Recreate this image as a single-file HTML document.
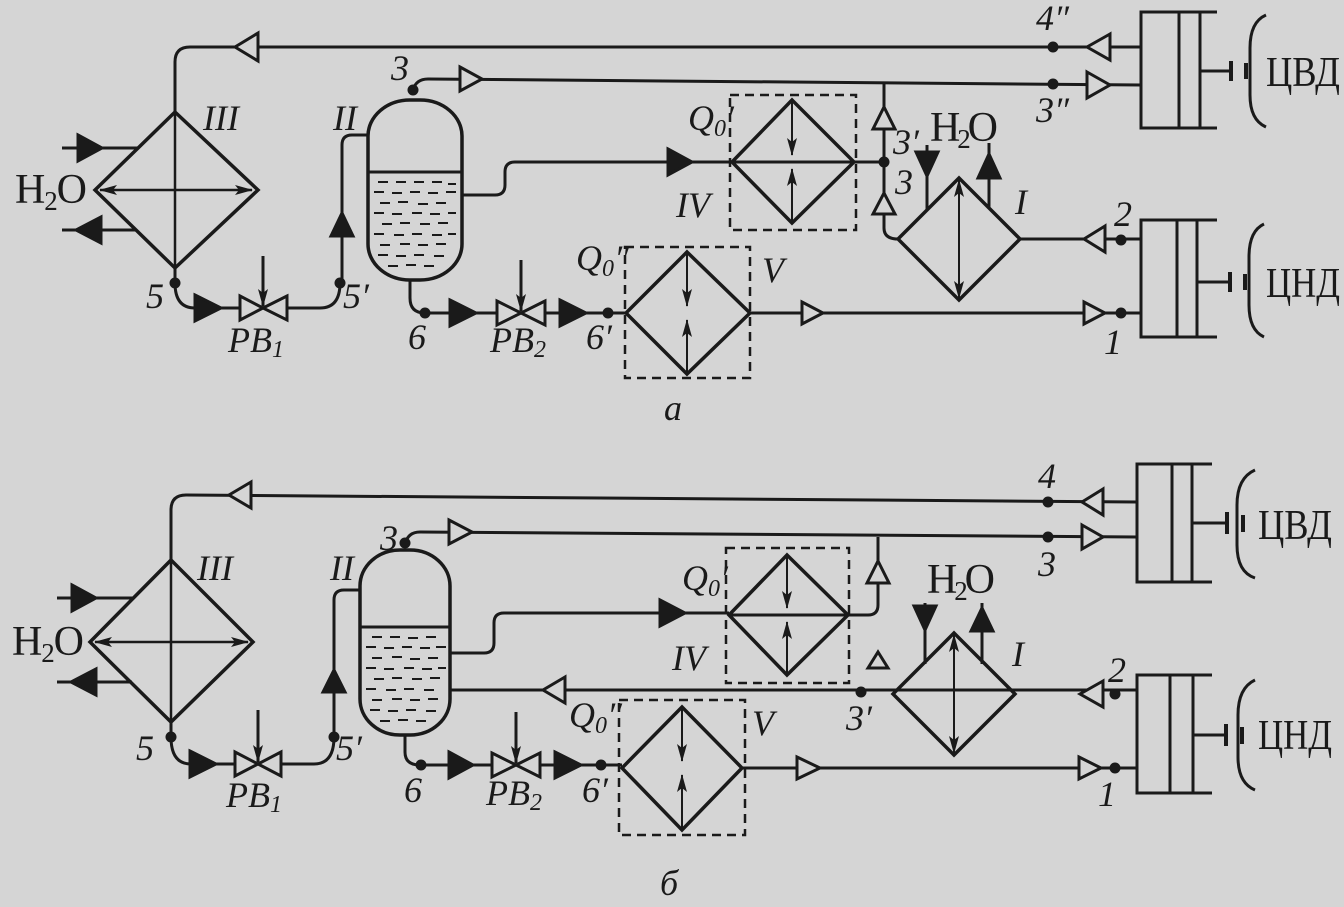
<!DOCTYPE html>
<html><head><meta charset="utf-8"><style>
html,body{margin:0;padding:0;background:#d5d5d5;}
svg{display:block;}
text{font-family:"Liberation Serif",serif;fill:#1a1a1a;}
.i{font-style:italic;font-size:36px;}
.n{font-size:42px;}
</style></head><body>
<svg width="1344" height="907" viewBox="0 0 1344 907" xmlns="http://www.w3.org/2000/svg">
<defs>
<marker id="ah2" markerWidth="18" markerHeight="10" refX="17" refY="5" orient="auto-start-reverse" markerUnits="userSpaceOnUse" viewBox="0 0 18 10">
<path d="M0,0 L18,5 L0,10 L4,5 Z" fill="#1a1a1a"/></marker>
</defs>
<rect width="1344" height="907" fill="#d5d5d5"/>
<g stroke="#1a1a1a" stroke-width="3" fill="none" stroke-linecap="butt">

<!-- ================= a ================= -->
<path d="M175,112 V62 Q175,47 190,47 H1141"/>
<polygon points="258,33 235,47 258,61" fill="#d5d5d5"/>
<polygon points="1110,34 1087,47 1110,60" fill="#d5d5d5"/>
<path d="M413,90 Q416,79 428,79 L1141,85"/>
<polygon points="460,67 482,79 460,91" fill="#d5d5d5"/>
<polygon points="1087,72 1110,85 1087,98" fill="#d5d5d5"/>
<rect x="368" y="100" width="94" height="180" rx="42" ry="36" stroke-width="3.5"/>
<line x1="368" y1="172" x2="462" y2="172"/>
<g stroke-width="2">
<path d="M378,182h10M396,182h10M414,182h10M432,182h10M448,184h8
M374,192h10M392,193h10M410,192h10M428,193h10M446,192h10
M380,203h10M398,202h10M418,204h10M436,203h10
M374,213h10M392,214h10M412,213h10M430,214h10M448,213h8
M382,224h10M400,223h10M420,224h10M438,223h10
M374,234h10M394,235h10M412,234h10M432,235h10M448,234h8
M380,245h10M400,244h10M418,245h10M436,244h10
M378,255h10M396,256h10M414,255h10M434,256h10
M388,266h10M406,265h10M424,266h10"/>
</g>
<path d="M368,135 H352 Q342,135 342,145 V283"/>
<polygon points="331,236 342,213 353,236" fill="#1a1a1a"/>
<path d="M340,283 Q340,308 320,308 H287"/>
<polygon points="240,296 263,308 240,320" fill="#d5d5d5"/>
<polygon points="287,296 263,308 287,320" fill="#d5d5d5"/>
<line x1="263" y1="256" x2="263" y2="306" marker-end="url(#ah2)"/>
<path d="M175,268 V283 Q175,308 195,308 H240"/>
<polygon points="195,295 221,308 195,321" fill="#1a1a1a"/>
<polygon points="175,112 258,190 175,268 95,190" stroke-width="3.5"/>
<line x1="175" y1="112" x2="175" y2="268" stroke-width="2.5"/>
<line x1="100" y1="190" x2="252" y2="190" stroke-width="2.5" marker-start="url(#ah2)" marker-end="url(#ah2)"/>
<line x1="62" y1="148" x2="138" y2="148"/>
<polygon points="78,135 102,148 78,161" fill="#1a1a1a"/>
<line x1="62" y1="230" x2="137" y2="230"/>
<polygon points="101,217 76,230 101,243" fill="#1a1a1a"/>
<path d="M462,195 H495 Q505,195 505,185 V172 Q505,162 515,162 H732"/>
<polygon points="668,149 692,162 668,175" fill="#1a1a1a"/>
<rect x="730" y="95" width="126" height="135" stroke-dasharray="9,6" stroke-width="2.5"/>
<polygon points="792,100 854,162 792,223 732,162" stroke-width="3.5"/>
<line x1="732" y1="162" x2="884" y2="162"/>
<line x1="792" y1="100" x2="792" y2="155" stroke-width="2" marker-end="url(#ah2)"/>
<line x1="792" y1="223" x2="792" y2="169" stroke-width="2" marker-end="url(#ah2)"/>
<path d="M884,84 V228 Q884,239 898,239"/>
<polygon points="873,129 884,107 895,129" fill="#d5d5d5"/>
<polygon points="873,214 884,193 895,214" fill="#d5d5d5"/>
<polygon points="959,178 1020,239 959,300 898,239" stroke-width="3.5"/>
<line x1="959" y1="180" x2="959" y2="298" stroke-width="2" marker-start="url(#ah2)" marker-end="url(#ah2)"/>
<line x1="1020" y1="239" x2="1141" y2="239"/>
<polygon points="1105,226 1084,239 1105,252" fill="#d5d5d5"/>
<line x1="927" y1="145" x2="927" y2="209"/>
<polygon points="916,152 938,152 927,176" fill="#1a1a1a"/>
<line x1="989" y1="143" x2="989" y2="209"/>
<polygon points="978,178 989,154 1000,178" fill="#1a1a1a"/>
<line x1="750" y1="313" x2="1141" y2="313"/>
<polygon points="802,302 823,313 802,324" fill="#d5d5d5"/>
<polygon points="1084,302 1105,313 1084,324" fill="#d5d5d5"/>
<rect x="625" y="247" width="125" height="131" stroke-dasharray="9,6" stroke-width="2.5"/>
<polygon points="687,252 750,313 687,374 626,313" stroke-width="3.5"/>
<line x1="687" y1="252" x2="687" y2="306" stroke-width="2" marker-end="url(#ah2)"/>
<line x1="687" y1="374" x2="687" y2="320" stroke-width="2" marker-end="url(#ah2)"/>
<path d="M410,280 V298 Q410,313 425,313 H626"/>
<polygon points="450,300 476,313 450,326" fill="#1a1a1a"/>
<polygon points="497,301 521,313 497,325" fill="#d5d5d5"/>
<polygon points="545,301 521,313 545,325" fill="#d5d5d5"/>
<line x1="521" y1="260" x2="521" y2="311" marker-end="url(#ah2)"/>
<polygon points="560,300 586,313 560,326" fill="#1a1a1a"/>
<path d="M1217,12 H1141 V128 H1217 M1179,12 V128 M1200,12 V128 M1200,71 H1231"/>
<line x1="1231" y1="61" x2="1231" y2="81" stroke-width="4"/>
<line x1="1246" y1="63" x2="1246" y2="79" stroke-width="4"/>
<path d="M1266,15 Q1250,22 1250,48 V95 Q1250,120 1266,127"/>
<path d="M1217,220 H1141 V337 H1217 M1177,220 V337 M1197,220 V337 M1197,282 H1230"/>
<line x1="1230" y1="272" x2="1230" y2="292" stroke-width="4"/>
<line x1="1245" y1="274" x2="1245" y2="290" stroke-width="4"/>
<path d="M1264,224 Q1249,231 1249,257 V305 Q1249,330 1264,337"/>

<!-- ================= b ================= -->
<path d="M171,560 V510 Q171,495 186,495 L1137,502"/>
<polygon points="251,482 229,495 251,508" fill="#d5d5d5"/>
<polygon points="1103,489 1082,502 1103,515" fill="#d5d5d5"/>
<path d="M405,544 Q408,532 420,532 L1137,537"/>
<polygon points="449,520 472,532 449,544" fill="#d5d5d5"/>
<polygon points="1082,525 1103,537 1082,549" fill="#d5d5d5"/>
<rect x="360" y="550" width="90" height="185" rx="40" ry="36" stroke-width="3.5"/>
<line x1="360" y1="627" x2="450" y2="627"/>
<g stroke-width="2">
<path d="M372,637h10M390,637h10M408,638h10M426,637h10
M366,647h10M384,648h10M402,647h10M420,648h10M436,647h10
M372,658h10M392,657h10M410,659h10M428,658h10
M366,668h10M384,669h10M404,668h10M422,669h10M438,668h8
M374,679h10M392,678h10M412,679h10M430,678h10
M366,689h10M386,690h10M404,689h10M424,690h10
M372,700h10M392,699h10M410,700h10M428,699h10
M370,710h10M388,711h10M406,710h10M426,711h10
M380,721h10M398,720h10M416,721h10"/>
</g>
<path d="M360,590 H344 Q334,590 334,600 V737"/>
<polygon points="323,692 334,670 345,692" fill="#1a1a1a"/>
<path d="M334,737 Q334,764 314,764 H281"/>
<polygon points="235,752 258,764 235,776" fill="#d5d5d5"/>
<polygon points="281,752 258,764 281,776" fill="#d5d5d5"/>
<line x1="258" y1="710" x2="258" y2="762" marker-end="url(#ah2)"/>
<path d="M171,722 V737 Q171,764 191,764 H235"/>
<polygon points="190,751 216,764 190,777" fill="#1a1a1a"/>
<polygon points="171,560 253,642 171,722 90,642" stroke-width="3.5"/>
<line x1="171" y1="560" x2="171" y2="722" stroke-width="2.5"/>
<line x1="95" y1="642" x2="248" y2="642" stroke-width="2.5" marker-start="url(#ah2)" marker-end="url(#ah2)"/>
<line x1="57" y1="598" x2="134" y2="598"/>
<polygon points="72,585 96,598 72,611" fill="#1a1a1a"/>
<line x1="57" y1="682" x2="132" y2="682"/>
<polygon points="96,669 71,682 96,695" fill="#1a1a1a"/>
<path d="M450,653 H484 Q494,653 494,643 V623 Q494,613 504,613 H729"/>
<polygon points="660,600 685,613 660,626" fill="#1a1a1a"/>
<rect x="726" y="548" width="123" height="135" stroke-dasharray="9,6" stroke-width="2.5"/>
<polygon points="787,555 848,615 787,675 729,615" stroke-width="3.5"/>
<line x1="729" y1="615" x2="848" y2="615"/>
<line x1="787" y1="555" x2="787" y2="608" stroke-width="2" marker-end="url(#ah2)"/>
<line x1="787" y1="675" x2="787" y2="622" stroke-width="2" marker-end="url(#ah2)"/>
<path d="M848,615 H868 Q878,615 878,605 V537"/>
<polygon points="867,583 878,561 889,583" fill="#d5d5d5"/>
<polygon points="868,668 878,652 888,668" fill="#d5d5d5"/>
<path d="M450,690 H861 H1137"/>
<polygon points="565,677 543,690 565,703" fill="#d5d5d5"/>
<polygon points="1103,681 1080,694 1103,707" fill="#d5d5d5"/>
<polygon points="954,633 1015,694 954,755 893,694" stroke-width="3.5"/>
<line x1="954" y1="635" x2="954" y2="753" stroke-width="2" marker-start="url(#ah2)" marker-end="url(#ah2)"/>
<line x1="925" y1="603" x2="925" y2="664"/>
<polygon points="914,606 936,606 925,630" fill="#1a1a1a"/>
<line x1="982" y1="603" x2="982" y2="664"/>
<polygon points="971,631 982,608 993,631" fill="#1a1a1a"/>
<line x1="742" y1="768" x2="1137" y2="768"/>
<polygon points="797,757 820,768 797,779" fill="#d5d5d5"/>
<polygon points="1079,757 1101,768 1079,779" fill="#d5d5d5"/>
<rect x="619" y="700" width="126" height="135" stroke-dasharray="9,6" stroke-width="2.5"/>
<polygon points="682,707 742,768 682,830 622,768" stroke-width="3.5"/>
<line x1="682" y1="707" x2="682" y2="761" stroke-width="2" marker-end="url(#ah2)"/>
<line x1="682" y1="830" x2="682" y2="775" stroke-width="2" marker-end="url(#ah2)"/>
<path d="M405,735 V752 Q405,765 420,765 H622"/>
<polygon points="449,752 473,765 449,778" fill="#1a1a1a"/>
<polygon points="492,753 516,765 492,777" fill="#d5d5d5"/>
<polygon points="540,753 516,765 540,777" fill="#d5d5d5"/>
<line x1="516" y1="712" x2="516" y2="763" marker-end="url(#ah2)"/>
<polygon points="555,752 581,765 555,778" fill="#1a1a1a"/>
<path d="M1212,464 H1137 V582 H1212 M1172,464 V582 M1192,464 V582 M1192,523 H1227"/>
<line x1="1227" y1="512" x2="1227" y2="534" stroke-width="4"/>
<line x1="1243" y1="515" x2="1243" y2="532" stroke-width="4"/>
<path d="M1255,470 Q1237,478 1237,505 V545 Q1237,572 1255,578"/>
<path d="M1212,675 H1137 V793 H1212 M1170,675 V793 M1193,675 V793 M1193,735 H1226"/>
<line x1="1226" y1="724" x2="1226" y2="746" stroke-width="4"/>
<line x1="1242" y1="727" x2="1242" y2="744" stroke-width="4"/>
<path d="M1255,680 Q1238,688 1238,715 V757 Q1238,783 1255,790"/>
</g>
<g fill="#1a1a1a">
<circle cx="1053" cy="47" r="5.5"/><circle cx="1053" cy="84" r="5.5"/>
<circle cx="413" cy="90" r="5.5"/><circle cx="884" cy="162" r="5.5"/>
<circle cx="1121" cy="240" r="5.5"/><circle cx="1121" cy="313" r="5.5"/>
<circle cx="175" cy="283" r="5.5"/><circle cx="340" cy="283" r="5.5"/>
<circle cx="425" cy="313" r="5.5"/><circle cx="608" cy="313" r="5.5"/>
<circle cx="1048" cy="502" r="5.5"/><circle cx="1048" cy="537" r="5.5"/>
<circle cx="405" cy="543" r="5.5"/><circle cx="861" cy="692" r="5.5"/>
<circle cx="1115" cy="694" r="5.5"/><circle cx="1115" cy="768" r="5.5"/>
<circle cx="171" cy="737" r="5.5"/><circle cx="334" cy="737" r="5.5"/>
<circle cx="421" cy="765" r="5.5"/><circle cx="601" cy="765" r="5.5"/>
</g>
<!-- labels a -->
<text class="n" x="15" y="203" textLength="72">H<tspan font-size="27" dy="7">2</tspan><tspan dy="-7">O</tspan></text>
<text class="n" x="930" y="141" textLength="68">H<tspan font-size="27" dy="7">2</tspan><tspan dy="-7">O</tspan></text>
<text class="n" x="1266" y="86" textLength="74" lengthAdjust="spacingAndGlyphs">ЦВД</text>
<text class="n" x="1266" y="297" textLength="74" lengthAdjust="spacingAndGlyphs">ЦНД</text>
<text class="i" x="203" y="130">III</text>
<text class="i" x="333" y="130">II</text>
<text class="i" x="391" y="80">3</text>
<text class="i" x="1036" y="30">4″</text>
<text class="i" x="1036" y="122">3″</text>
<text class="i" x="688" y="130">Q<tspan font-size="24" dy="6">0</tspan><tspan dy="-6">′</tspan></text>
<text class="i" x="676" y="217">IV</text>
<text class="i" x="893" y="154">3′</text>
<text class="i" x="895" y="194">3</text>
<text class="i" x="1015" y="214">I</text>
<text class="i" x="1114" y="226">2</text>
<text class="i" x="1104" y="354">1</text>
<text class="i" x="146" y="308">5</text>
<text class="i" x="343" y="308">5′</text>
<text class="i" x="228" y="352">PB<tspan font-size="24" dy="5">1</tspan></text>
<text class="i" x="408" y="349">6</text>
<text class="i" x="490" y="352">PB<tspan font-size="24" dy="5">2</tspan></text>
<text class="i" x="586" y="349">6′</text>
<text class="i" x="576" y="270">Q<tspan font-size="24" dy="6">0</tspan><tspan dy="-6">″</tspan></text>
<text class="i" x="762" y="282">V</text>
<text class="i" x="664" y="420">a</text>
<!-- labels b -->
<text class="n" x="12" y="655" textLength="72">H<tspan font-size="27" dy="7">2</tspan><tspan dy="-7">O</tspan></text>
<text class="n" x="927" y="593" textLength="68">H<tspan font-size="27" dy="7">2</tspan><tspan dy="-7">O</tspan></text>
<text class="n" x="1258" y="539" textLength="74" lengthAdjust="spacingAndGlyphs">ЦВД</text>
<text class="n" x="1258" y="749" textLength="74" lengthAdjust="spacingAndGlyphs">ЦНД</text>
<text class="i" x="197" y="580">III</text>
<text class="i" x="330" y="580">II</text>
<text class="i" x="380" y="550">3</text>
<text class="i" x="1038" y="488">4</text>
<text class="i" x="1038" y="576">3</text>
<text class="i" x="682" y="590">Q<tspan font-size="24" dy="6">0</tspan><tspan dy="-6">′</tspan></text>
<text class="i" x="672" y="670">IV</text>
<text class="i" x="846" y="730">3′</text>
<text class="i" x="1012" y="666">I</text>
<text class="i" x="1108" y="682">2</text>
<text class="i" x="1098" y="806">1</text>
<text class="i" x="136" y="760">5</text>
<text class="i" x="336" y="760">5′</text>
<text class="i" x="226" y="807">PB<tspan font-size="24" dy="5">1</tspan></text>
<text class="i" x="404" y="802">6</text>
<text class="i" x="486" y="805">PB<tspan font-size="24" dy="5">2</tspan></text>
<text class="i" x="582" y="802">6′</text>
<text class="i" x="569" y="727">Q<tspan font-size="24" dy="6">0</tspan><tspan dy="-6">″</tspan></text>
<text class="i" x="752" y="735">V</text>
<text class="i" x="660" y="895">б</text>
</svg>
</body></html>
